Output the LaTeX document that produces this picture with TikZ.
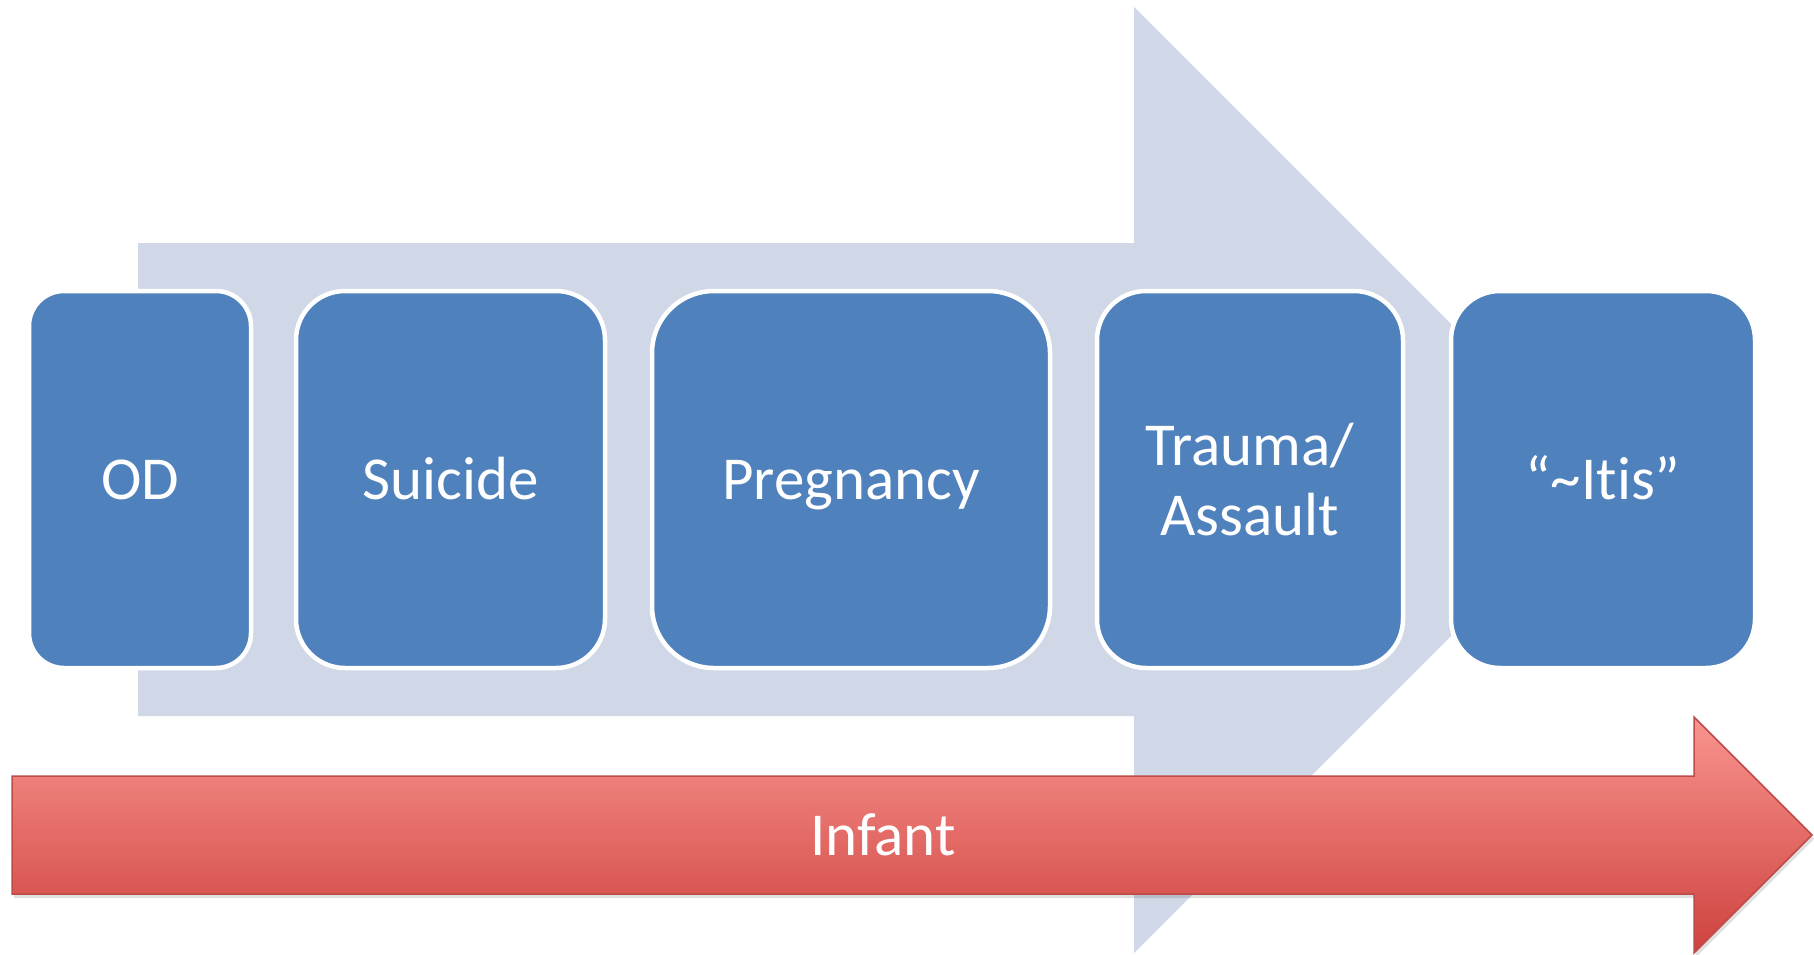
\documentclass[tikz,border=0pt]{standalone}
\usepackage{fontspec}
\setmainfont{Carlito}[Ligatures={TeX,NoCommon}]
\usepackage{tikz}

\definecolor{boxblue}{RGB}{79,129,189}
\definecolor{arrowgrey}{RGB}{208,216,232}
\definecolor{infanttop}{RGB}{249,148,143}
\definecolor{infantbottom}{RGB}{206,66,62}
\definecolor{infantline}{RGB}{190,75,72}

\tikzset{
  stagebox/.style={draw=white, line width=4.5pt, fill=boxblue, text=white,
    align=center, inner sep=0pt, minimum height=377pt,
    font=\fontsize{61}{70}\selectfont},
  oneline/.style={text height=40pt, text depth=0pt},
}

\begin{document}
\begin{tikzpicture}[x=1pt,y=-1pt]
        \useasboundingbox (0,0) rectangle (1814,954);

        % Draw the big background arrow
        \fill[arrowgrey] (138,243) -- (1134,243) -- (1134,7) -- (1607,480)
            -- (1134,953) -- (1134,716) -- (138,716) -- cycle;

        % Add the stages
        \node[stagebox, oneline, minimum width=222pt, rounded corners=35pt] (od) at (140,479.5) {OD};
        \node[stagebox, oneline, minimum width=309pt, rounded corners=49pt] (suicide) at (450.5,479.5) {Suicide};
        \node[stagebox, oneline, minimum width=398pt, rounded corners=62pt] (pregnancy) at (851,479.5) {Pregnancy};
        \node[stagebox, minimum width=306pt, rounded corners=49pt] (trauma) at (1250,479.5) {Trauma/\\Assault};
        \node[stagebox, oneline, minimum width=304pt, rounded corners=49pt] (itis) at (1603,479.5) {“\textasciitilde Itis”};

        % Draw the infant arrow
        \fill[black, opacity=0.12] (14,780) -- (1696,780) -- (1696,721) -- (1814,839)
            -- (1696,957) -- (1696,898) -- (14,898) -- cycle;
        \shade[top color=infanttop, bottom color=infantbottom, draw=infantline, line width=1.5pt]
            (12,776) -- (1694,776) -- (1694,717) -- (1812,835)
            -- (1694,953) -- (1694,894) -- (12,894) -- cycle;
        \node[oneline, text=white, inner sep=0pt, font=\fontsize{61}{70}\selectfont] (infant) at (883,835) {Infant};
\end{tikzpicture}
\end{document}
